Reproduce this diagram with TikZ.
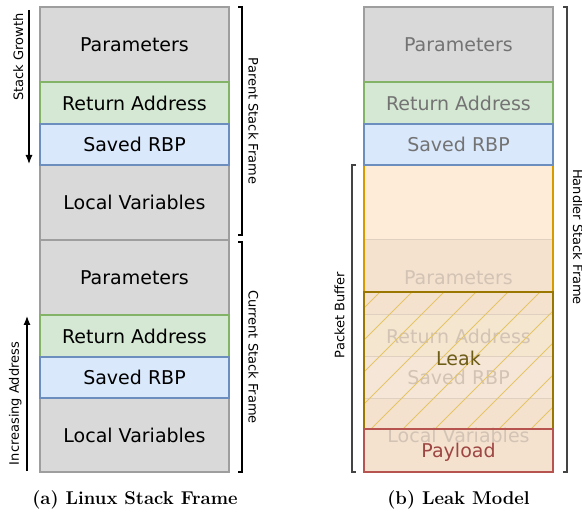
\documentclass[tikz,border=0pt]{standalone}
\usepackage{fontspec}
\newfontfamily\boxfont{DejaVu Sans}
\usetikzlibrary{arrows.meta,calc}
\definecolor{grayF}{HTML}{D9D9D9}
\definecolor{grayD}{HTML}{9E9E9E}
\definecolor{greenF}{HTML}{D5E8D4}
\definecolor{greenD}{HTML}{82B366}
\definecolor{blueF}{HTML}{DAE8FC}
\definecolor{blueD}{HTML}{6C8EBF}
\definecolor{peachF}{HTML}{FEEBD8}
\definecolor{orangeD}{HTML}{D79B00}
\definecolor{fadeGray}{HTML}{F4E2CF}
\definecolor{fadeGreen}{HTML}{F4E6CF}
\definecolor{fadeBlue}{HTML}{F6E6D8}
\definecolor{fadeLine}{HTML}{E0D0C0}
\definecolor{fadeText}{HTML}{D2C3B4}
\definecolor{leakD}{HTML}{9A7700}
\definecolor{leakText}{HTML}{6E5D17}
\definecolor{hatchC}{HTML}{E3C466}
\definecolor{redD}{HTML}{B85450}
\definecolor{redText}{HTML}{9E4643}
\definecolor{topText}{HTML}{737373}
\definecolor{brkGray}{HTML}{444444}
\begin{document}
\begin{tikzpicture}[x=1pt,y=-1pt,
  cell/.style={line width=1.3pt, minimum width=189pt, inner sep=0pt, outer sep=0pt,
    font=\boxfont\fontsize{19}{21}\selectfont},
  graycell/.style={cell, fill=grayF, draw=grayD},
  greencell/.style={cell, fill=greenF, draw=greenD},
  bluecell/.style={cell, fill=blueF, draw=blueD},
  fadecell/.style={cell, draw=none, minimum width=188pt, text=fadeText},
  sidelabel/.style={font=\boxfont\fontsize{13}{15}\selectfont, inner sep=0pt},
  brk/.style={line width=1.2pt},
  caption/.style={font=\bfseries\fontsize{18.5}{22}\selectfont, inner sep=0pt},
  hatch/.style={draw=hatchC, line width=0.9pt},
]
\useasboundingbox (0,0) rectangle (582,516);

% ---------------- (a) Linux stack frame ----------------
\node[graycell, minimum height=75pt] (p1) at (134.5,44.5) {Parameters};
\node[graycell, minimum height=75pt] (l1) at (134.5,202.5) {Local Variables};
\node[greencell, minimum height=42pt] (r1) at (134.5,103) {Return Address};
\node[bluecell, minimum height=41pt] (s1) at (134.5,144.5) {Saved RBP};

\node[graycell, minimum height=75pt] (p2) at (134.5,277.5) {Parameters};
\node[graycell, minimum height=74pt] (l2) at (134.5,435) {Local Variables};
\node[greencell, minimum height=42pt] (r2) at (134.5,336) {Return Address};
\node[bluecell, minimum height=41pt] (s2) at (134.5,377.5) {Saved RBP};

% brackets
\coordinate (pb1) at (242,7);
\coordinate (pb2) at (242,235);
\coordinate (cb1) at (242,242);
\coordinate (cb2) at (242,472);
\draw[brk] ($(pb1)+(-4,0)$) -- (pb1) -- (pb2) -- ($(pb2)+(-4,0)$);
\draw[brk] ($(cb1)+(-4,0)$) -- (cb1) -- (cb2) -- ($(cb2)+(-4,0)$);
\node[sidelabel, rotate=-90] (parentlbl) at (253.5,121) {Parent Stack Frame};
\node[sidelabel, rotate=-90] (currentlbl) at (253.5,357) {Current Stack Frame};

% arrows
\coordinate (sg1) at (29,10);
\coordinate (sg2) at (29,164);
\draw[line width=1.2pt, -{Latex[length=9pt,width=7pt]}] (sg1) -- (sg2);
\node[sidelabel, rotate=90] (sglbl) at (18.3,57) {Stack Growth};
\coordinate (ia1) at (27,471);
\coordinate (ia2) at (27,316);
\draw[line width=1.2pt, -{Latex[length=9pt,width=7pt]}] (ia1) -- (ia2);
\node[sidelabel, rotate=90] (ialbl) at (15.3,403.5) {Increasing Address};

\node[caption] (capA) at (135,500) {(a) Linux Stack Frame};

% ---------------- (b) Leak model ----------------
\node[graycell, minimum height=75pt, text=topText] (p3) at (458.5,44.5) {Parameters};
\node[greencell, minimum height=42pt, text=topText] (r3) at (458.5,103) {Return Address};

% packet buffer region
\node[cell, fill=peachF, draw=none, minimum height=307pt] (buf) at (458.5,318.5) {};
\node[fadecell, fill=fadeGray, minimum height=75pt] (fp) at (458.5,277.5) {Parameters};
\node[fadecell, fill=fadeGreen, minimum height=42pt] (fr) at (458.5,336) {Return Address};
\node[fadecell, fill=fadeBlue, minimum height=41pt] (fs) at (458.5,377.5) {Saved RBP};
\node[fadecell, fill=fadeGray, minimum height=74pt] (fl) at (458.5,435) {Local Variables};
\draw[fadeLine, line width=1pt] (fp.north west) -- (fp.north east);
\draw[fadeLine, line width=1pt] (fr.north west) -- (fr.north east);
\draw[fadeLine, line width=1pt] (fs.north west) -- (fs.north east);
\draw[fadeLine, line width=1pt] (fl.north west) -- (fl.north east);
\draw[orangeD, line width=1.3pt] (buf.south west) -- (buf.north west) -- (buf.north east) -- (buf.south east);

\node[bluecell, minimum height=41pt, text=topText] (s3) at (458.5,144.5) {Saved RBP};

% leak box
\node[cell, minimum height=137pt] (leak) at (458.5,360.5) {};
\begin{scope}
  \clip (leak.north west) rectangle (leak.south east);
  \foreach \k in {0,...,10} {
    \draw[hatch] (380+32*\k,292) -- (240+32*\k,432);
  }
\end{scope}
\draw[leakD, line width=1.5pt] (leak.north west) rectangle (leak.south east);
\node[cell, draw=none, text=leakText] (leaktxt) at (458.5,358) {Leak};

% payload
\node[cell, draw=redD, line width=1.5pt, minimum height=43pt] (pay) at (458.5,450.5) {};
\node[cell, draw=none, text=redText] (paytxt) at (458.5,452) {Payload};

% brackets
\coordinate (hb1) at (567,7);
\coordinate (hb2) at (567,472);
\draw[brk, brkGray] ($(hb1)+(-4,0)$) -- (hb1) -- (hb2) -- ($(hb2)+(-4,0)$);
\node[sidelabel, rotate=-90] (hlbl) at (578,237) {Handler Stack Frame};
\coordinate (bb1) at (352,165);
\coordinate (bb2) at (352,472);
\draw[brk, brkGray] ($(bb1)+(4,0)$) -- (bb1) -- (bb2) -- ($(bb2)+(4,0)$);
\node[sidelabel, rotate=90] (pblbl) at (339.5,315) {Packet Buffer};

\node[caption] (capB) at (458.5,500) {(b) Leak Model};
\end{tikzpicture}
\end{document}
